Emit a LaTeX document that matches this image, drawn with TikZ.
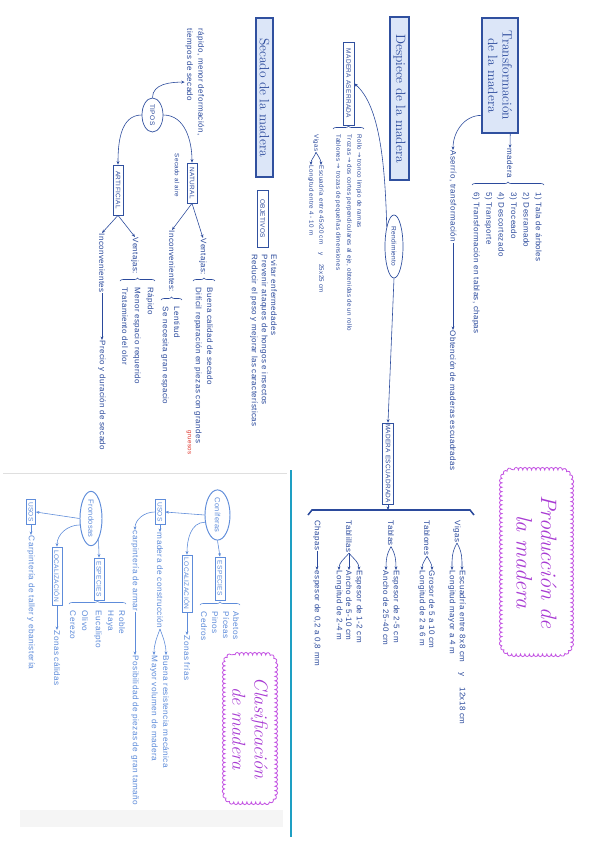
\documentclass[tikz,border=0pt]{standalone}
\usepackage{fontspec}
\usepackage{tikz}
\usetikzlibrary{arrows.meta, positioning, shapes.geometric,
                 decorations.pathreplacing, decorations.pathmorphing}
\newfontfamily\hand{Liberation Sans}[LetterSpace=5]
\newfontfamily\symf{DejaVu Sans}
\newcommand{\ra}{{\symf →}}
\newcommand{\pxu}{0.03cm}
\definecolor{inkcolor}{HTML}{2B4A9C}
\definecolor{boxcolor}{HTML}{DCE6F8}
\definecolor{framecolor}{HTML}{30509F}
\definecolor{panelcolor}{HTML}{5E8CDA}
\definecolor{cloudcolor}{HTML}{C455E3}
\definecolor{cloudtext}{HTML}{A83AD3}
\definecolor{edgecolor}{HTML}{1E9FC3}
\definecolor{notecolor}{HTML}{E0352C}

\begin{document}
\begin{tikzpicture}[x=\pxu, y=\pxu, rotate=-90, transform shape,
    title/.style={draw=framecolor, line width=1pt, fill=boxcolor, text=inkcolor,
                  font=\fontsize{11.5}{12.5}\selectfont, inner sep=1pt, align=center},
    tag/.style={draw=framecolor, line width=0.6pt, fill=white, text=inkcolor,
                font=\hand\fontsize{5.5}{6}\selectfont, inner sep=0.8pt},
    oval/.style={ellipse, draw=framecolor, line width=0.6pt, text=inkcolor,
                 font=\hand\fontsize{5.6}{6}\selectfont, inner sep=0pt},
    txt/.style={text=inkcolor, font=\hand\fontsize{6.8}{9.5}\selectfont, anchor=west, inner sep=0.5pt},
    stxt/.style={txt, font=\hand\fontsize{5.3}{6}\selectfont},
    ptag/.style={tag, draw=panelcolor, text=panelcolor, font=\hand\fontsize{5.6}{6}\selectfont},
    poval/.style={oval, draw=panelcolor, text=panelcolor, line width=0.8pt,
                  font=\hand\fontsize{6.4}{7}\selectfont},
    ptxt/.style={txt, text=panelcolor, font=\hand\fontsize{7}{8}\selectfont},
    arr/.style={draw=inkcolor, line width=0.5pt, -{Stealth[length=3pt, width=2.4pt]}},
    parr/.style={arr, draw=panelcolor},
    brc/.style={draw=inkcolor, line width=0.5pt, decorate, decoration={brace, amplitude=2.5pt}},
    pbrc/.style={brc, draw=panelcolor},
    bubble/.style={draw=cloudcolor, line width=0.7pt,
                   decorate, decoration={bumps, segment length=7.5pt, amplitude=2.2pt}},
    cloudtxt/.style={text=cloudtext, font=\itshape\fontsize{19}{21}\selectfont,
                     align=center, inner sep=0pt}
]
    \useasboundingbox (0,0) rectangle (848,-601);
    \fill[white] (0,0) rectangle (848,-601);

    % --- Transformacion de la madera ---
    \node[title, minimum width=115*\pxu, minimum height=36*\pxu] (trans) at (75.5,-101) {Transformación\\de la madera};
    \node[txt] (mad) at (148,-91) {madera};
    \draw[arr] (trans.10) -- (mad.west);
    \draw[brc] (185,-129) -- (185,-57);
    \def\y{63}
    \node[txt] (fase1) at (192,-\y) {1) Tala de árboles};
    \pgfmathsetmacro{\y}{\y+12.4}
    \node[txt] (fase2) at (192,-\y) {2) Desramado};
    \pgfmathsetmacro{\y}{\y+12.4}
    \node[txt] (fase3) at (192,-\y) {3) Troceado};
    \pgfmathsetmacro{\y}{\y+12.4}
    \node[txt] (fase4) at (192,-\y) {4) Descortezado};
    \pgfmathsetmacro{\y}{\y+12.4}
    \node[txt] (fase5) at (192,-\y) {5) Transporte};
    \pgfmathsetmacro{\y}{\y+12.4}
    \node[txt] (fase6) at (192,-\y) {6) Transformación en tablas, chapas};
    \node[txt] (aser) at (150,-148) {Aserrío, transformación};
    \node[txt] (obt) at (330,-148) {Obtención de maderas escuadradas};
    \draw[arr] (trans.-25) to[out=-90, in=180] (aser.west);
    \draw[arr] (aser.east) -- (obt.west);

    % --- Produccion de la madera ---
    \node[cloudtxt, minimum width=190*\pxu, minimum height=73*\pxu] (prod) at (562,-64.5) {Producción de\\la madera};
    \draw[bubble] (470,-87) -- (470,-42) arc[start angle=180, end angle=90, radius=12*\pxu]
        -- (642,-30) arc[start angle=90, end angle=0, radius=12*\pxu]
        -- (654,-87) arc[start angle=0, end angle=-90, radius=12*\pxu]
        -- (482,-99) arc[start angle=-90, end angle=-180, radius=12*\pxu];

    % --- Despiece de la madera ---
    \node[title, minimum width=163*\pxu, minimum height=19*\pxu] (desp) at (98.5,-201.5) {Despiece de la madera};
    \node[tag, minimum width=83*\pxu, minimum height=11*\pxu] (maser) at (83.5,-252.5) {MADERA ASERRADA};
    \node[oval, minimum width=63*\pxu, minimum height=18*\pxu] (rend) at (246.5,-207) {Rendimiento};
    \node[tag, minimum width=73*\pxu, minimum height=11*\pxu] (mescu) at (463.5,-213) {MADERA ESCUADRADA};
    \draw[arr] (rend.200) .. controls (160,-216) and (105,-222) .. (maser.north);
    \draw[arr] (rend.east) -- (mescu.west);
    \draw[brc] (129,-268) -- (129,-237);
    \node[stxt] (rollo) at (134,-242) {Rollo \ra{} tronco limpio de ramas};
    \node[stxt] (troza) at (134,-252) {Trozas \ra{} dos cortes perpendiculares al eje, obtenidas de un rollo};
    \node[stxt] (tablon) at (134,-263) {Tablones \ra{} trozas de pequeñas dimensiones};
    \node[stxt] (viga) at (134,-285) {Vigas};
    \node[stxt] (vigaa) at (165,-280) {Escuadría entre 45x20 cm \quad y \quad 25x25 cm};
    \node[stxt] (vigab) at (165,-290) {Longitud entre 4 - 10 m};
    \draw[arr] (viga.east) to[out=30, in=180] (vigaa.west);
    \draw[arr] (viga.east) to[out=-20, in=180] (vigab.west);

    % --- piezas escuadradas ---
    \coordinate (brk) at (510,-213);
    \draw[draw=inkcolor, line width=1.3pt] (515,-127) -- (510,-131) -- (510,-289) -- (515,-293);
    \draw[arr] (mescu.east) -- (brk);
    \node[txt] (pviga) at (520,-144) {Vigas};
    \node[txt] (pvigaa) at (570,-139) {Escuadría entre 8x8 cm \quad y \quad 12x18 cm};
    \node[txt] (pvigab) at (570,-149) {Longitud mayor a 4 m};
    \draw[arr] (pviga.east) to[out=30, in=180] (pvigaa.west);
    \draw[arr] (pviga.east) to[out=-30, in=180] (pvigab.west);
    \node[txt] (ptabn) at (520,-174) {Tablones};
    \node[txt] (ptabna) at (570,-169) {Grosor de 5 a 10 cm};
    \node[txt] (ptabnb) at (570,-179) {Longitud de 2 a 6 m};
    \draw[arr] (ptabn.east) to[out=30, in=180] (ptabna.west);
    \draw[arr] (ptabn.east) to[out=-30, in=180] (ptabnb.west);
    \node[txt] (ptabs) at (520,-210) {Tablas};
    \node[txt] (ptabsa) at (570,-205) {Espesor de 2-5 cm};
    \node[txt] (ptabsb) at (570,-215) {Ancho de 25-40 cm};
    \draw[arr] (ptabs.east) to[out=30, in=180] (ptabsa.west);
    \draw[arr] (ptabs.east) to[out=-30, in=180] (ptabsb.west);
    \node[txt] (ptabl) at (520,-252) {Tablillas};
    \node[txt] (ptabla) at (570,-242) {Espesor de 1-2 cm};
    \node[txt] (ptablb) at (570,-252) {Ancho de 5-10 cm};
    \node[txt] (ptablc) at (570,-262) {Longitud de 2-4 m};
    \draw[arr] (ptabl.east) to[out=40, in=180] (ptabla.west);
    \draw[arr] (ptabl.east) -- (ptablb.west);
    \draw[arr] (ptabl.east) to[out=-40, in=180] (ptablc.west);
    \node[txt] (pchap) at (520,-284) {Chapas};
    \node[txt] (pchapa) at (570,-284) {espesor de 0,2 a 0,8 mm};
    \draw[arr] (pchap.east) -- (pchapa.west);

    % --- Secado de la madera ---
    \node[title, minimum width=159*\pxu, minimum height=17*\pxu] (seca) at (97.5,-336.5) {Secado de la madera};
    \node[tag, minimum width=57*\pxu, minimum height=11*\pxu] (obj) at (218.5,-338.5) {OBJETIVOS};
    \node[txt] (obj1) at (254,-327) {Evitar enfermedades};
    \node[txt] (obj2) at (254,-337) {Prevenir ataques de hongos e insectos};
    \node[txt] (obj3) at (254,-347) {Reducir el peso y mejorar las características};
    \node[oval, minimum width=34*\pxu, minimum height=21*\pxu] (tipos) at (115,-448.5) {TIPOS};
    \node[txt, anchor=north west, align=left] (tdef) at (28,-396) {rápido, menor deformación,\\tiempos de secado};
    \draw[arr] (tipos.west) to[out=180, in=-90] (tdef.south);
    \node[tag, minimum width=40*\pxu, minimum height=10*\pxu] (nat) at (183,-409) {NATURAL};
    \node[tag, minimum width=50*\pxu, minimum height=10*\pxu] (art) at (190,-483) {ARTIFICIAL};
    \draw[arr] (tipos.north) to[out=90, in=180] (nat.west);
    \draw[arr] (tipos.south) to[out=-90, in=180] (art.west);
    \node[stxt] (aire) at (153,-424) {Secado al aire};

    % natural
    \node[txt] (nven) at (238,-398) {Ventajas:};
    \node[txt] (ninc) at (230,-429) {Inconvenientes:};
    \draw[arr] (nat.east) -- (nven.west);
    \draw[arr] (nat.east) -- (ninc.west);
    \draw[brc] (281,-408) -- (281,-386);
    \node[txt] (nven1) at (287,-391) {Buena calidad de secado};
    \node[txt] (nven2) at (287,-403) {Difícil reparación en piezas con grandes};
    \node[stxt, text=notecolor] (nota) at (430,-412) {gruesos};
    \draw[brc] (300,-440) -- (300,-419);
    \node[txt] (ninc1) at (306,-424) {Lentitud};
    \node[txt] (ninc2) at (306,-436) {Se necesita gran espacio};

    % artificial
    \node[txt] (aven) at (237,-466) {Ventajas:};
    \node[txt] (ainc) at (233,-499) {Inconvenientes};
    \draw[arr] (art.east) -- (aven.west);
    \draw[arr] (art.east) -- (ainc.west);
    \draw[brc] (281,-481) -- (281,-446);
    \node[txt] (aven1) at (287,-451) {Rápido};
    \node[txt] (aven2) at (287,-464) {Menor espacio requerido};
    \node[txt] (aven3) at (287,-476) {Tratamiento del olor};
    \node[txt] (ainc1) at (340,-499) {Precio y duración de secado};
    \draw[arr] (ainc.east) -- (ainc1.west);

    % --- Clasificacion (panel) ---
    \fill[gray!8] (810,-318) rectangle (827,-581);
    \draw[gray!25, line width=0.6pt] (473,-314) -- (473,-598);
    \draw[edgecolor, line width=1pt] (470,-310) -- (837,-310);
    \node[cloudtxt, font=\itshape\fontsize{16}{19}\selectfont, minimum width=153*\pxu, minimum height=56*\pxu] (clas) at (728.5,-351) {Clasificación\\de madera};
    \draw[bubble] (655,-366) -- (655,-336) arc[start angle=180, end angle=90, radius=10*\pxu]
        -- (792,-326) arc[start angle=90, end angle=0, radius=10*\pxu]
        -- (802,-366) arc[start angle=0, end angle=-90, radius=10*\pxu]
        -- (665,-376) arc[start angle=-90, end angle=-180, radius=10*\pxu];

    \node[poval, minimum width=46*\pxu, minimum height=25*\pxu] (conif) at (515,-383.5) {Coníferas};
    \node[ptag, minimum width=43*\pxu, minimum height=10*\pxu] (esp1) at (578.5,-381) {ESPECIES};
    \draw[parr] (conif.east) -- (esp1.west);
    \draw[pbrc] (605,-401) -- (605,-361);
    \node[ptxt] (abeto) at (611,-365) {Abetos};
    \node[ptxt] (picea) at (611,-375) {Píceas};
    \node[ptxt] (pino) at (611,-386) {Pinos};
    \node[ptxt] (cedro) at (611,-397) {Cedros};
    \node[ptag, minimum width=57*\pxu, minimum height=10*\pxu] (loc1) at (583.5,-414) {LOCALIZACIÓN};
    \draw[parr] (conif.-60) to[out=-90, in=180] (loc1.west);
    \node[ptxt] (zfria) at (635,-414) {Zonas frías};
    \draw[parr] (loc1.east) -- (zfria.west);
    \node[ptag, minimum width=25*\pxu, minimum height=10*\pxu] (usos1) at (512,-441) {USOS};
    \draw[parr] (conif.south) -- (usos1.north);
    \node[ptxt] (mcons) at (532,-441) {madera de construcción};
    \draw[parr] (usos1.east) -- (mcons.west);
    \node[ptxt] (bres) at (655,-435) {Buena resistencia mecánica};
    \node[ptxt] (mvol) at (655,-447) {Mayor volumen de madera};
    \draw[parr] (mcons.east) to[out=20, in=180] (bres.west);
    \draw[parr] (mcons.east) to[out=-20, in=180] (mvol.west);
    \node[ptxt] (carm) at (530,-466) {carpintería de armar};
    \draw[parr] (usos1.south) to[out=-90, in=180] (carm.west);
    \node[ptxt] (pgran) at (655,-466) {Posibilidad de piezas de gran tamaño};
    \draw[parr] (carm.east) -- (pgran.west);

    \node[poval, minimum width=53*\pxu, minimum height=22*\pxu] (frond) at (518.5,-510) {Frondosas};
    \node[ptag, minimum width=42*\pxu, minimum height=10*\pxu] (esp2) at (579,-502) {ESPECIES};
    \draw[parr] (frond.20) to[out=0, in=180] (esp2.west);
    \draw[pbrc] (604,-532) -- (604,-475);
    \node[ptxt] (roble) at (610,-479) {Roble};
    \node[ptxt] (haya) at (610,-491) {Haya};
    \node[ptxt] (eucal) at (610,-503) {Eucalipto};
    \node[ptxt] (olivo) at (610,-516) {Olivo};
    \node[ptxt] (cerezo) at (610,-528) {Cerezo};
    \node[ptag, minimum width=58*\pxu, minimum height=10*\pxu] (loc2) at (576,-544) {LOCALIZACIÓN};
    \draw[parr] (frond.-60) to[out=-90, in=180] (loc2.west);
    \node[ptxt] (zcal) at (630,-544) {Zonas cálidas};
    \draw[parr] (loc2.east) -- (zcal.west);
    \node[ptag, minimum width=25*\pxu, minimum height=9*\pxu] (usos2) at (512,-570) {USOS};
    \draw[parr] (frond.south) -- (usos2.north);
    \node[ptxt] (ctal) at (535,-570) {Carpintería de taller y ebanistería};
    \draw[parr] (usos2.east) -- (ctal.west);
\end{tikzpicture}
\end{document}
